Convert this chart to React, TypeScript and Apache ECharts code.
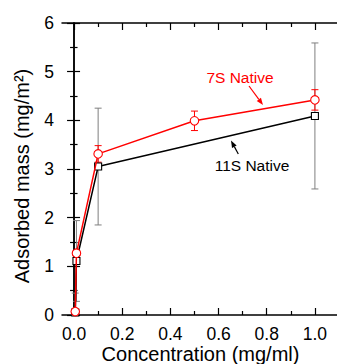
import React, { useEffect, useRef } from "react";
import * as echarts from "echarts";

const xs7 = [0.005, 0.01, 0.1, 0.5, 1.0];
const y7 = [0.07, 1.27, 3.31, 3.99, 4.42];
const e7 = [0.03, 0.05, 0.17, 0.2, 0.21];
const xs11 = [0.005, 0.01, 0.1, 1.0];
const y11 = [0.05, 1.11, 3.05, 4.09];
const e11 = [0.4, 0.83, 1.2, 1.5];
const xMajor = [0, 0.2, 0.4, 0.6, 0.8, 1.0];
const xMinor = [0.1, 0.3, 0.5, 0.7, 0.9];
const xTitle = "Concentration (mg/ml)";
const yTitle = "Adsorbed mass (mg/m²)";
const label7 = "7S Native";
const label11 = "11S Native";

const FONT = "'Liberation Sans', Arial, sans-serif";

function arrow(x1: number, y1: number, x2: number, y2: number, color: string) {
  const dx = x2 - x1, dy = y2 - y1;
  const len = Math.hypot(dx, dy);
  const ux = dx / len, uy = dy / len;
  const px = -uy, py = ux;
  const L = 7, W = 2.6;
  const bx = x2 - ux * L, by = y2 - uy * L;
  return [
    { type: "line", shape: { x1, y1, x2: bx, y2: by }, style: { stroke: color, lineWidth: 1.2 } },
    {
      type: "polygon",
      shape: { points: [[x2, y2], [bx + px * W, by + py * W], [bx - px * W, by - py * W]] },
      style: { fill: color },
    },
  ];
}

function errSeries(xs: number[], ys: number[], es: number[], color: string) {
  return {
    type: "custom",
    xAxisIndex: 0,
    yAxisIndex: 0,
    z: 1,
    data: xs.map((x, i) => [x, ys[i], es[i]]),
    renderItem: (params: any, api: any) => {
      const x = api.value(0), y = api.value(1), e = api.value(2);
      const lo = Math.max(0, y - e);
      const top = api.coord([x, y + e]);
      const bot = api.coord([x, lo]);
      const cw = 3.5;
      const children: any[] = [
        { type: "line", shape: { x1: top[0], y1: top[1], x2: bot[0], y2: bot[1] }, style: { stroke: color, lineWidth: 1 } },
        { type: "line", shape: { x1: top[0] - cw, y1: top[1], x2: top[0] + cw, y2: top[1] }, style: { stroke: color, lineWidth: 1 } },
      ];
      if (y - e > 0) {
        children.push({ type: "line", shape: { x1: bot[0] - cw, y1: bot[1], x2: bot[0] + cw, y2: bot[1] }, style: { stroke: color, lineWidth: 1 } });
      }
      return { type: "group", children };
    },
  };
}

export default function App() {
  const ref = useRef<HTMLDivElement>(null);
  useEffect(() => {
    if (!ref.current) return;
    const chart = echarts.init(ref.current, undefined, { renderer: "svg" });
    const baseX = {
      type: "value",
      min: -0.05,
      max: 1.1,
      gridIndex: 0,
      splitLine: { show: false },
    };
    const axisLine = { show: true, lineStyle: { color: "#000", width: 1.5 } };
    chart.setOption({
      animation: false,
      backgroundColor: "#fff",
      grid: { left: 62, top: 23, width: 277, height: 292, outerBoundsMode: "none", containLabel: false },
      xAxis: [
        {
          ...baseX,
          position: "bottom",
          axisLine,
          axisTick: { show: true, inside: true, length: 7, customValues: xMajor, lineStyle: { color: "#000", width: 1.2 } },
          axisLabel: {
            show: true,
            customValues: xMajor,
            formatter: (v: number) => v.toFixed(1),
            fontSize: 17.5,
            color: "#000",
            fontFamily: FONT,
            margin: 10,
          },
          name: xTitle,
          nameLocation: "middle",
          nameGap: 29,
          nameMoveOverlap: false,
          nameTextStyle: { fontSize: 20, color: "#000", fontFamily: FONT },
        },
        {
          ...baseX,
          position: "bottom",
          axisLine: { show: false },
          axisTick: { show: true, inside: true, length: 4, customValues: xMinor, lineStyle: { color: "#000", width: 1.2 } },
          axisLabel: { show: false },
        },
        {
          ...baseX,
          position: "top",
          axisLine,
          axisTick: { show: true, inside: true, length: 7, customValues: xMajor, lineStyle: { color: "#000", width: 1.2 } },
          axisLabel: { show: false },
        },
        {
          ...baseX,
          position: "top",
          axisLine: { show: false },
          axisTick: { show: true, inside: true, length: 4, customValues: xMinor, lineStyle: { color: "#000", width: 1.2 } },
          axisLabel: { show: false },
        },
      ],
      yAxis: [
        {
          type: "value",
          min: 0,
          max: 6,
          interval: 1,
          position: "left",
          splitLine: { show: false },
          axisLine,
          axisTick: { show: true, inside: true, length: 6, lineStyle: { color: "#000", width: 1.2 } },
          minorTick: { show: true, splitNumber: 2, length: 3.5, lineStyle: { color: "#000", width: 1.2 } },
          axisLabel: { fontSize: 17.5, color: "#000", fontFamily: FONT, margin: 8 },
        },
        {
          type: "value",
          min: 0,
          max: 6,
          interval: 1,
          position: "right",
          splitLine: { show: false },
          axisLine,
          axisTick: { show: true, inside: true, length: 7, lineStyle: { color: "#000", width: 1.2 } },
          minorTick: { show: true, splitNumber: 2, length: 4, lineStyle: { color: "#000", width: 1.2 } },
          axisLabel: { show: false },
        },
      ],
      series: [
        errSeries(xs11, y11, e11, "#7f7f7f"),
        errSeries(xs7, y7, e7, "#ff0000"),
        {
          type: "line",
          name: label11,
          xAxisIndex: 0,
          yAxisIndex: 0,
          z: 3,
          data: xs11.map((x, i) => [x, y11[i]]),
          symbol: "rect",
          symbolSize: 7,
          lineStyle: { color: "#000", width: 1.5 },
          itemStyle: { color: "#fff", borderColor: "#000", borderWidth: 1.1 },
        },
        {
          type: "line",
          name: label7,
          xAxisIndex: 0,
          yAxisIndex: 0,
          z: 4,
          data: xs7.map((x, i) => [x, y7[i]]),
          symbol: "circle",
          symbolSize: 8.5,
          lineStyle: { color: "#ff0000", width: 1.5 },
          itemStyle: { color: "#fff", borderColor: "#ff0000", borderWidth: 1.1 },
        },
      ],
      graphic: [
        {
          type: "text",
          x: 22,
          y: 176,
          rotation: Math.PI / 2,
          style: { text: yTitle, fill: "#000", font: `20px ${FONT}`, align: "center", verticalAlign: "middle" },
        },
        {
          type: "text",
          x: 240,
          y: 77,
          style: { text: label7, fill: "#ff0000", font: `15.5px ${FONT}`, align: "center", verticalAlign: "middle" },
        },
        {
          type: "text",
          x: 252,
          y: 165,
          style: { text: label11, fill: "#000", font: `15.5px ${FONT}`, align: "center", verticalAlign: "middle" },
        },
        ...arrow(249, 86, 263, 105, "#ff0000"),
        ...arrow(238.3, 154, 231, 140.5, "#000"),
      ],
    });
    return () => chart.dispose();
  }, []);
  return (
    <div style={{ position: "fixed", left: 0, top: 0, width: 337, height: 364, overflow: "hidden", background: "#fff" }}>
      <div ref={ref} style={{ width: 345, height: 364 }} />
    </div>
  );
}
